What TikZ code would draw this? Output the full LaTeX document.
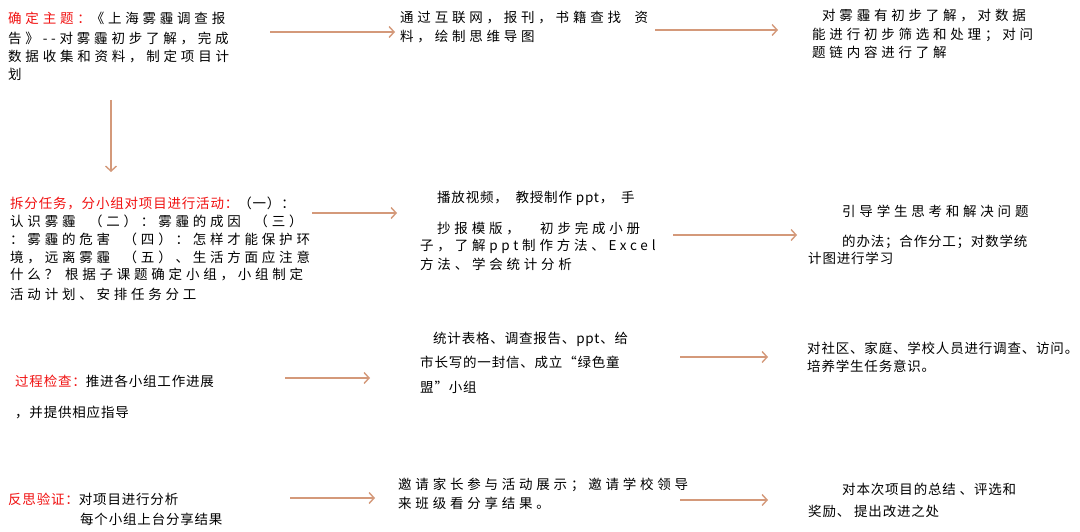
\documentclass[tikz,border=0pt]{standalone}
\usepackage{fontspec}
\usetikzlibrary{arrows.meta}
\newfontfamily\cjkw[LetterSpace=28]{Noto Sans CJK SC}
\newfontfamily\cjkn[LetterSpace=6]{Noto Sans CJK SC}
\definecolor{arr}{HTML}{D4997A}
\definecolor{rd}{HTML}{F01010}
\tikzset{
 tx/.style={anchor=west,inner sep=0pt,font=\fontsize{13.5}{16}\cjkw},
 tn/.style={anchor=west,inner sep=0pt,font=\fontsize{13.5}{16}\cjkn},
 ar/.style={draw=arr,line width=1.4pt,-{Straight Barb[length=5pt,width=11pt]}},
}
\begin{document}
\begin{tikzpicture}[x=1pt,y=-1pt]
\useasboundingbox (0,0) rectangle (1080,532);
% row 1
\node[tx] (a1) at (8,18) {\textcolor{rd}{确定主题：}《上海雾霾调查报};
\node[tx] (a2) at (8,38) {告》--对雾霾初步了解，完成};
\node[tx] (a3) at (8,57) {数据收集和资料，制定项目计};
\node[tx] (a4) at (8,74) {划};
\node[tx] (b1) at (400,18) {通过互联网，报刊，书籍查找\ \ 资};
\node[tx] (b2) at (400,37) {料，绘制思维导图};
\node[tx] (c1) at (822,16) {对雾霾有初步了解，对数据};
\node[tx] (c2) at (812,35) {能进行初步筛选和处理；对问};
\node[tx] (c3) at (812,52) {题链内容进行了解};
\coordinate (p1) at (270,32); \coordinate (q1) at (395,32);
\coordinate (p2) at (655,30); \coordinate (q2) at (778,30);
\coordinate (p3) at (111,100); \coordinate (q3) at (111,172);
\draw[ar] (p1) -- (q1); \draw[ar] (p2) -- (q2); \draw[ar] (p3) -- (q3);
% row 2
\node[tn] (d1) at (10,203) {\textcolor{rd}{拆分任务，分小组对项目进行活动：}（一）：};
\node[tx] (d2) at (10,221) {认识雾霾\ \ （二）：雾霾的成因\ \ （三）};
\node[tx] (d3) at (10,239) {：雾霾的危害\ \ （四）：怎样才能保护环};
\node[tx] (d4) at (10,257) {境，远离雾霾\ \ （五）、生活方面应注意};
\node[tx] (d5) at (10,275) {什么？ 根据子课题确定小组，小组制定};
\node[tx] (d6) at (10,294) {活动计划、安排任务分工};
\node[tn] (e1) at (437,198) {播放视频，\ \ 教授制作 ppt，\ \ 手};
\node[tx] (e2) at (437,228) {抄报模版，\ \ \ 初步完成小册};
\node[tx] (e3) at (420,246) {子，了解ppt制作方法、Excel};
\node[tx] (e4) at (420,264) {方法、学会统计分析};
\node[tx] (f1) at (842,211) {引导学生思考和解决问题};
\node[tn] (f2) at (842,242) {的办法；合作分工；对数学统};
\node[tn] (f3) at (808,258) {计图进行学习};
\coordinate (p4) at (312,213); \coordinate (q4) at (397,213);
\coordinate (p5) at (673,235); \coordinate (q5) at (797,235);
\draw[ar] (p4) -- (q4); \draw[ar] (p5) -- (q5);
% row 3
\node[tn] (g1) at (15,381) {\textcolor{rd}{过程检查：}推进各小组工作进展};
\node[tn] (g2) at (15,412) {，并提供相应指导};
\node[tn] (h1) at (433,339) {统计表格、调查报告、ppt、给};
\node[tn] (h2) at (420,362) {市长写的一封信、成立“绿色童};
\node[tn] (h3) at (420,387) {盟”小组};
\node[tn] (i1) at (807,348) {对社区、家庭、学校人员进行调查、访问。};
\node[tn] (i2) at (807,366) {培养学生任务意识。};
\coordinate (p6) at (285,378); \coordinate (q6) at (370,378);
\coordinate (p7) at (680,357); \coordinate (q7) at (768,357);
\draw[ar] (p6) -- (q6); \draw[ar] (p7) -- (q7);
% row 4
\node[tn] (j1) at (8,499) {\textcolor{rd}{反思验证：}对项目进行分析};
\node[tn] (j2) at (80,519) {每个小组上台分享结果};
\node[tx] (k1) at (398,485) {邀请家长参与活动展示；邀请学校领导};
\node[tx] (k2) at (398,503) {来班级看分享结果。};
\node[tn] (l1) at (842,489) {对本次项目的总结 、评选和};
\node[tn] (l2) at (808,511) {奖励、 提出改进之处};
\coordinate (p8) at (290,498); \coordinate (q8) at (375,498);
\coordinate (p9) at (680,500); \coordinate (q9) at (768,500);
\draw[ar] (p8) -- (q8); \draw[ar] (p9) -- (q9);
\end{tikzpicture}
\end{document}
